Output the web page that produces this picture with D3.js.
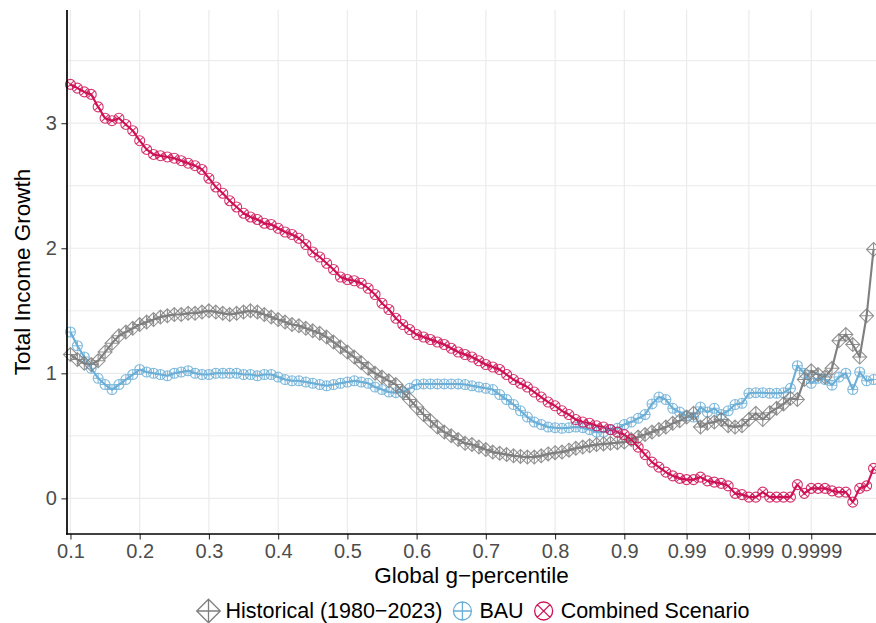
<!DOCTYPE html>
<html>
<head>
<meta charset="utf-8">
<script src="https://cdn.jsdelivr.net/npm/d3@7"></script>
<style>
  html, body { margin: 0; padding: 0; background: #fff; }
  svg { display: block; font-family: "Liberation Sans", Arial, Helvetica, sans-serif; }
</style>
</head>
<body>
<svg id="chart" width="876" height="623"></svg>
<script>
// Global g-percentiles (p10 … p99, then finer top-tail groups)
const gPercentiles = [
  10, 11, 12, 13, 14, 15, 16, 17, 18, 19, 20, 21, 22, 23, 24, 25, 26, 27, 28, 29,
  30, 31, 32, 33, 34, 35, 36, 37, 38, 39, 40, 41, 42, 43, 44, 45, 46, 47, 48, 49,
  50, 51, 52, 53, 54, 55, 56, 57, 58, 59, 60, 61, 62, 63, 64, 65, 66, 67, 68, 69,
  70, 71, 72, 73, 74, 75, 76, 77, 78, 79, 80, 81, 82, 83, 84, 85, 86, 87, 88, 89,
  90, 91, 92, 93, 94, 95, 96, 97, 98, 99,
  99.1, 99.2, 99.3, 99.4, 99.5, 99.6, 99.7, 99.8, 99.9,
  99.91, 99.92, 99.93, 99.94, 99.95, 99.96, 99.97, 99.98, 99.99,
  99.991, 99.992, 99.993, 99.994, 99.995, 99.996, 99.997, 99.998, 99.999
];

// Total income growth, Historical (1980–2023)
const historical = [
  1.15, 1.11, 1.08, 1.07, 1.10, 1.17, 1.24, 1.30, 1.33, 1.36,
  1.39, 1.41, 1.43, 1.45, 1.46, 1.47, 1.47, 1.48, 1.48, 1.49,
  1.50, 1.49, 1.48, 1.47, 1.48, 1.49, 1.50, 1.49, 1.47, 1.45,
  1.43, 1.41, 1.39, 1.38, 1.36, 1.34, 1.32, 1.29, 1.25, 1.21,
  1.17, 1.13, 1.085, 1.04, 1.00, 0.97, 0.94, 0.91, 0.85, 0.79,
  0.73, 0.67, 0.62, 0.57, 0.53, 0.50, 0.47, 0.44, 0.43, 0.41,
  0.39, 0.37, 0.36, 0.35, 0.34, 0.335, 0.33, 0.33, 0.34, 0.355,
  0.365, 0.37, 0.385, 0.40, 0.41, 0.42, 0.43, 0.435, 0.44, 0.445,
  0.45, 0.47, 0.49, 0.51, 0.53, 0.55, 0.57, 0.60, 0.62, 0.65,
  0.68, 0.57, 0.60, 0.61, 0.63, 0.58, 0.57, 0.58, 0.63,
  0.68, 0.63, 0.685, 0.72, 0.755, 0.80, 0.79, 0.95, 1.02,
  0.99, 0.97, 1.04, 1.26, 1.31, 1.23, 1.13, 1.46, 1.99
];

// Total income growth, BAU
const bau = [
  1.33, 1.22, 1.13, 1.04, 0.96, 0.91, 0.87, 0.91, 0.95, 0.99,
  1.03, 1.01, 1.00, 0.99, 0.98, 1.00, 1.01, 1.02, 1.00, 0.99,
  0.99, 1.00, 1.00, 1.00, 1.00, 0.99, 0.99, 0.98, 0.99, 0.99,
  0.97, 0.95, 0.94, 0.94, 0.93, 0.92, 0.91, 0.90, 0.91, 0.92,
  0.93, 0.94, 0.93, 0.92, 0.89, 0.87, 0.85, 0.845, 0.85, 0.88,
  0.91, 0.915, 0.915, 0.915, 0.915, 0.915, 0.915, 0.91, 0.90, 0.89,
  0.88, 0.87, 0.83, 0.79, 0.75, 0.70, 0.65, 0.61, 0.59, 0.57,
  0.565, 0.56, 0.565, 0.57, 0.565, 0.55, 0.53, 0.53, 0.55, 0.56,
  0.59, 0.61, 0.64, 0.67, 0.755, 0.81, 0.79, 0.72, 0.69, 0.66,
  0.65, 0.73, 0.69, 0.72, 0.67, 0.70, 0.75, 0.76, 0.84,
  0.845, 0.845, 0.84, 0.84, 0.845, 0.88, 1.06, 1.00, 0.92,
  0.96, 0.95, 0.905, 0.97, 1.00, 0.87, 1.01, 0.94, 0.95
];

// Total income growth, Combined Scenario
const combined = [
  3.31, 3.28, 3.25, 3.23, 3.13, 3.04, 3.02, 3.04, 2.99, 2.94,
  2.86, 2.79, 2.75, 2.74, 2.73, 2.72, 2.70, 2.68, 2.66, 2.63,
  2.56, 2.49, 2.44, 2.38, 2.33, 2.28, 2.25, 2.23, 2.20, 2.19,
  2.16, 2.13, 2.11, 2.08, 2.03, 1.97, 1.93, 1.88, 1.83, 1.77,
  1.75, 1.74, 1.72, 1.68, 1.63, 1.56, 1.51, 1.44, 1.39, 1.35,
  1.31, 1.29, 1.27, 1.25, 1.23, 1.20, 1.17, 1.15, 1.13, 1.10,
  1.07, 1.05, 1.03, 0.99, 0.95, 0.92, 0.89, 0.85, 0.81, 0.77,
  0.74, 0.70, 0.67, 0.63, 0.61, 0.60, 0.58, 0.57, 0.55, 0.53,
  0.51, 0.47, 0.41, 0.35, 0.29, 0.25, 0.21, 0.18, 0.16, 0.15,
  0.15, 0.17, 0.14, 0.13, 0.12, 0.10, 0.04, 0.03, 0.01,
  0.01, 0.05, 0.01, 0.01, 0.01, 0.01, 0.11, 0.04, 0.08,
  0.08, 0.08, 0.06, 0.05, 0.05, -0.03, 0.08, 0.10, 0.24
];

// Axis ticks
const xTickValues = [10, 20, 30, 40, 50, 60, 70, 80, 90, 99, 99.9, 99.99];
const xTickLabels = ["0.1", "0.2", "0.3", "0.4", "0.5", "0.6", "0.7", "0.8", "0.9", "0.99", "0.999", "0.9999"];
const yTickValues = [0, 1, 2, 3];
const yMinorValues = [0.5, 1.5, 2.5, 3.5];

const seriesNames = ["Historical (1980\u22122023)", "BAU", "Combined Scenario"];
const seriesColors = ["#7f7f7f", "#6baed6", "#ce1256"];

// ---- layout ----
const svg = d3.select("#chart");
const panelLeft = 67, panelRight = 877, panelTop = 10, panelBottom = 534;

const x = d3.scalePoint().domain(gPercentiles).range([panelLeft, panelRight]).padding(0.5);
const y = d3.scaleLinear().domain([-0.285, 3.905]).range([panelBottom, panelTop]);

// marker shapes
function circlePath(r) {
  return `M${r},0A${r},${r} 0 1 1 ${-r},0A${r},${r} 0 1 1 ${r},0Z`;
}
const shapes = [
  // diamond with plus
  r => `M0,${-r}L${r},0L0,${r}L${-r},0Z M0,${-r}V${r} M${-r},0H${r}`,
  // circle with plus
  r => circlePath(r) + ` M${-r},0H${r} M0,${-r}V${r}`,
  // circle with cross
  r => { const d = r / Math.SQRT2; return circlePath(r) + ` M${-d},${-d}L${d},${d} M${-d},${d}L${d},${-d}`; }
];
const markerSize = [7, 5, 5];
const keySize = [11.8, 9, 9];

// ---- grid ----
const grid = svg.append("g").attr("stroke", "#ebebeb").attr("fill", "none");
yMinorValues.forEach(v => grid.append("line")
  .attr("x1", panelLeft).attr("x2", 876).attr("y1", y(v)).attr("y2", y(v)).attr("stroke-width", 1));
yTickValues.forEach(v => grid.append("line")
  .attr("x1", panelLeft).attr("x2", 876).attr("y1", y(v)).attr("y2", y(v)).attr("stroke-width", 1.2));
xTickValues.forEach(v => grid.append("line")
  .attr("x1", x(v)).attr("x2", x(v)).attr("y1", panelTop).attr("y2", panelBottom).attr("stroke-width", 1.2));

// ---- series ----
const seriesData = [historical, bau, combined];
const line = d3.line().x((d, i) => x(gPercentiles[i])).y(d => y(d));

const plot = svg.append("g");
seriesData.forEach((vals, s) => {
  plot.append("path")
    .attr("d", line(vals))
    .attr("fill", "none")
    .attr("stroke", seriesColors[s])
    .attr("stroke-width", 2.1)
    .attr("stroke-linejoin", "round");
});
[1, 0, 2].forEach(s => {
  plot.append("g").selectAll("path")
    .data(seriesData[s])
    .join("path")
    .attr("transform", (d, i) => `translate(${x(gPercentiles[i])},${y(d)})`)
    .attr("d", shapes[s](markerSize[s]))
    .attr("fill", "none")
    .attr("stroke", seriesColors[s])
    .attr("stroke-width", 1.1)
    .attr("stroke-opacity", 0.85);
});

// ---- axes ----
const xAxis = d3.axisBottom(x)
  .tickValues(xTickValues)
  .tickFormat((d, i) => xTickLabels[i])
  .tickSize(5.6).tickPadding(4);
const gx = svg.append("g").attr("transform", `translate(0,${panelBottom})`).call(xAxis);
gx.select(".domain").remove();
gx.selectAll(".tick line").attr("stroke", "#333333").attr("stroke-width", 1.1);
gx.selectAll(".tick text").attr("fill", "#4d4d4d").attr("font-size", 20)
  .attr("font-family", "Liberation Sans, Arial, sans-serif");

const yAxis = d3.axisLeft(y).tickValues(yTickValues).tickFormat(d3.format("d"))
  .tickSize(5.6).tickPadding(4.5);
const gy = svg.append("g").attr("transform", `translate(${panelLeft},0)`).call(yAxis);
gy.select(".domain").remove();
gy.selectAll(".tick line").attr("stroke", "#333333").attr("stroke-width", 1.1);
gy.selectAll(".tick text").attr("fill", "#4d4d4d").attr("font-size", 20)
  .attr("font-family", "Liberation Sans, Arial, sans-serif");

// axis lines
svg.append("line").attr("x1", panelLeft).attr("x2", panelLeft).attr("y1", panelTop).attr("y2", panelBottom + 0.8)
  .attr("stroke", "#000").attr("stroke-width", 1.7);
svg.append("line").attr("x1", panelLeft - 0.8).attr("x2", 876).attr("y1", panelBottom).attr("y2", panelBottom)
  .attr("stroke", "#000").attr("stroke-width", 1.7);

// axis titles
svg.append("text")
  .attr("x", (panelLeft + 876) / 2).attr("y", 583)
  .attr("text-anchor", "middle").attr("font-size", 22.5).attr("fill", "#000")
  .text("Global g\u2212percentile");
svg.append("text")
  .attr("transform", `translate(30,${(panelTop + panelBottom) / 2}) rotate(-90)`)
  .attr("text-anchor", "middle").attr("font-size", 22.5).attr("fill", "#000")
  .text("Total Income Growth");

// ---- legend ----
const legend = svg.append("g");
const keyHalf = 9, keyTextGap = 8, itemGap = 11, legendBaseline = 617.5, legendMid = 611;
const items = seriesNames.map((name, s) => {
  const t = legend.append("text").attr("font-size", 21.5).attr("fill", "#000").attr("y", legendBaseline).text(name);
  return { s, t, w: t.node().getComputedTextLength() };
});
const totalW = d3.sum(items, d => 2 * keyHalf + keyTextGap + d.w) + itemGap * (items.length - 1);
let cx = 474.5 - totalW / 2;
items.forEach(it => {
  const kx = cx + keyHalf;
  legend.append("path")
    .attr("transform", `translate(${kx},${legendMid})`)
    .attr("d", shapes[it.s](keySize[it.s]))
    .attr("fill", "none").attr("stroke", seriesColors[it.s]).attr("stroke-width", 1.3);
  it.t.attr("x", kx + keyHalf + keyTextGap);
  cx = kx + keyHalf + keyTextGap + it.w + itemGap;
});
</script>
</body>
</html>
